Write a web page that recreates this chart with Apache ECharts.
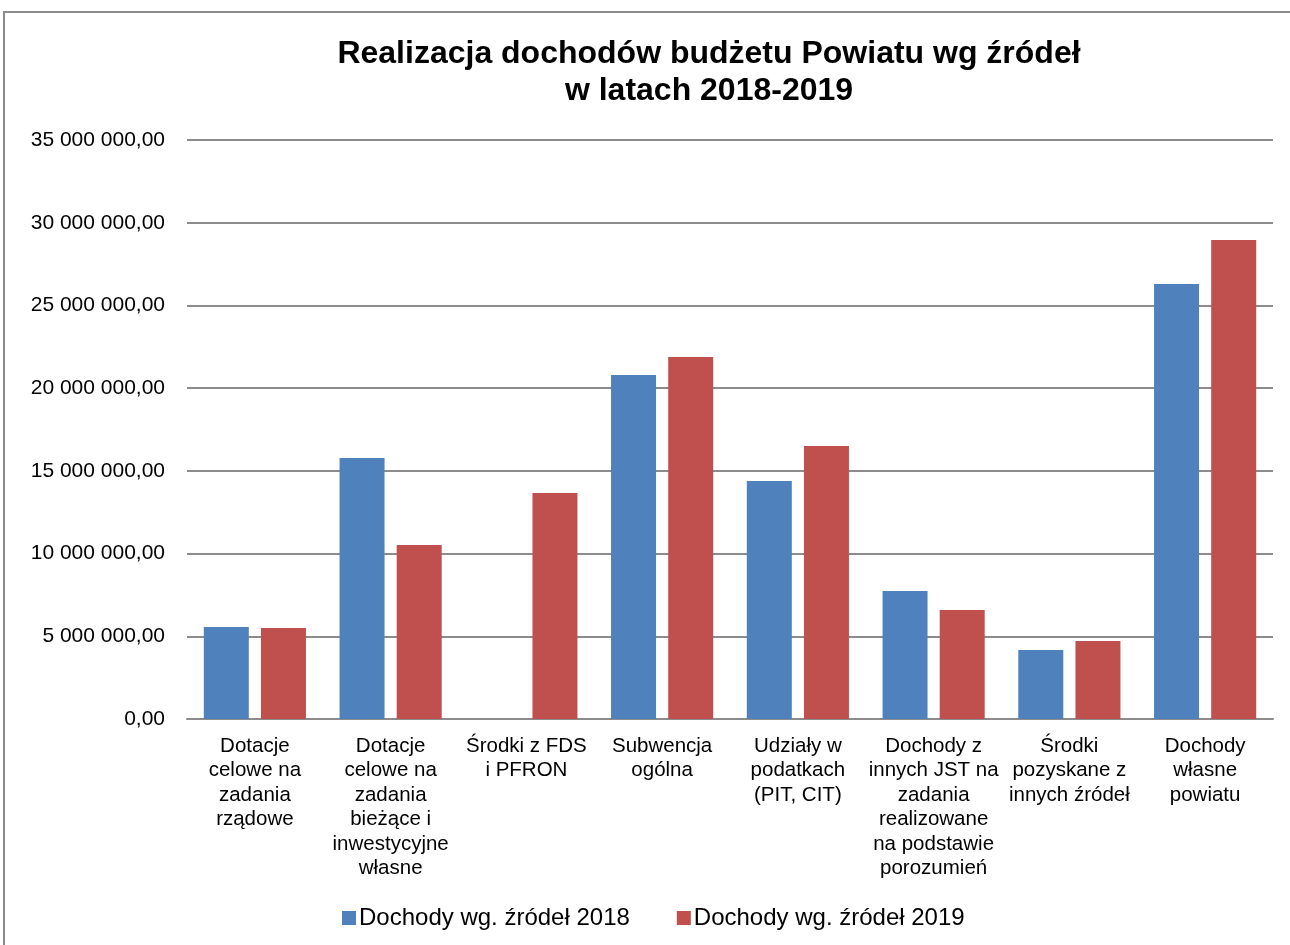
<!DOCTYPE html>
<html>
<head>
<meta charset="utf-8">
<script src="https://cdn.jsdelivr.net/npm/echarts@6/dist/echarts.min.js"></script>
<style>
  html, body { margin: 0; padding: 0; background: #ffffff; }
  .frame {
    position: absolute;
    left: 3px;
    top: 11px;
    width: 1300px;
    height: 950px;
    border: 2px solid #8c8c8c;
    box-sizing: border-box;
  }
  #chart { position: absolute; left: 0; top: 0; width: 1290px; height: 945px; }
</style>
</head>
<body>
<div class="frame"></div>
<div id="chart"></div>
<script>
// kategorie (etykiety osi x, z recznym lamaniem linii)
var categories = [
  "Dotacje\ncelowe na\nzadania\nrządowe",
  "Dotacje\ncelowe na\nzadania\nbieżące i\ninwestycyjne\nwłasne",
  "Środki z FDS\ni PFRON",
  "Subwencja\nogólna",
  "Udziały w\npodatkach\n(PIT, CIT)",
  "Dochody z\ninnych JST na\nzadania\nrealizowane\nna podstawie\nporozumień",
  "Środki\npozyskane z\ninnych źródeł",
  "Dochody\nwłasne\npowiatu"
];
var seriesNames = ["Dochody wg. źródeł 2018", "Dochody wg. źródeł 2019"];
var data2018 = [5560000, 15780000, 0, 20800000, 14390000, 7740000, 4170000, 26300000];
var data2019 = [5500000, 10520000, 13660000, 21880000, 16500000, 6590000, 4720000, 28960000];

var fontFamily = '"Liberation Sans", Arial, sans-serif';

function fmt(v) {
  var s = Math.round(v).toString().replace(/\B(?=(\d{3})+(?!\d))/g, " ");
  return s + ",00";
}

var option = {
  animation: false,
  color: ["#4F81BD", "#C0504D"],
  textStyle: { fontFamily: fontFamily },
  title: {
    text: "Realizacja dochodów budżetu Powiatu wg źródeł\nw latach 2018-2019",
    left: 704,
    top: 31,
    textAlign: "center",
    textStyle: {
      fontFamily: fontFamily,
      fontSize: 32,
      fontWeight: "bold",
      color: "#000000",
      lineHeight: 37
    }
  },
  legend: {
    data: seriesNames,
    bottom: 10,
    left: 337,
    itemWidth: 14,
    itemHeight: 14,
    itemGap: 47,
    icon: "rect",
    textStyle: { fontSize: 24, color: "#000000", fontFamily: fontFamily, padding: [0, 0, 0, -2] }
  },
  grid: {
    left: 187,
    right: 17,
    top: 140,
    bottom: 226
  },
  xAxis: {
    type: "category",
    data: categories,
    axisTick: { show: false },
    axisLine: { lineStyle: { color: "#8c8c8c", width: 2 } },
    axisLabel: {
      interval: 0,
      color: "#000000",
      fontSize: 20.5,
      lineHeight: 24.5,
      margin: 15,
      align: "center"
    }
  },
  yAxis: {
    type: "value",
    min: 0,
    max: 35000000,
    interval: 5000000,
    axisLine: { show: false },
    axisTick: { show: false },
    splitLine: { lineStyle: { color: "#8c8c8c", width: 2 } },
    axisLabel: {
      color: "#000000",
      fontSize: 21,
      margin: 22,
      formatter: fmt
    }
  },
  series: [
    {
      name: seriesNames[0],
      type: "bar",
      data: data2018,
      barWidth: 45,
      barGap: "27%"
    },
    {
      name: seriesNames[1],
      type: "bar",
      data: data2019,
      barWidth: 45,
      barGap: "27%"
    }
  ]
};

var myChart = echarts.init(document.getElementById("chart"));
myChart.setOption(option);
</script>
</body>
</html>
